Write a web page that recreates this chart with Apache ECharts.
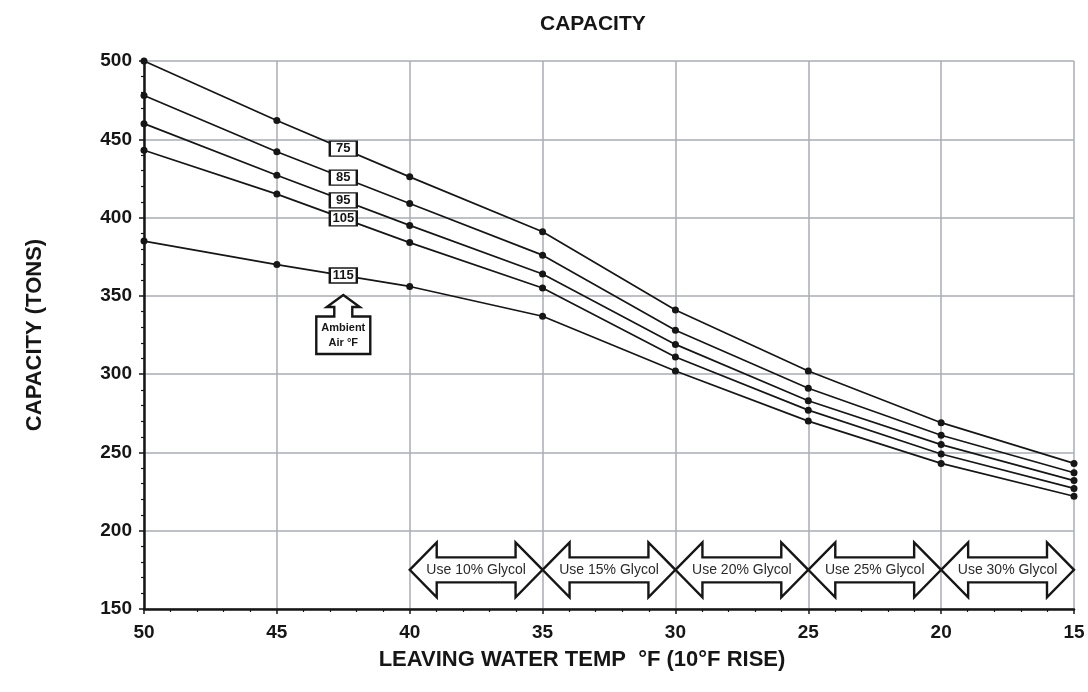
<!DOCTYPE html>
<html>
<head>
<meta charset="utf-8">
<script src="https://cdn.jsdelivr.net/npm/echarts@6/dist/echarts.min.js"></script>
<style>html,body{margin:0;padding:0;background:#fff}#c{width:1088px;height:692px}</style>
</head>
<body>
<div id="c"></div>
<script>
// ---- data ----
const temps = [50, 45, 40, 35, 30, 25, 20, 15];
const cap75  = [500, 462, 426, 391, 341, 302, 269, 243];
const cap85  = [478, 442, 409, 376, 328, 291, 261, 237];
const cap95  = [460, 427, 395, 364, 319, 283, 255, 232];
const cap105 = [443, 415, 384, 355, 311, 277, 249, 227];
const cap115 = [385, 370, 356, 337, 302, 270, 243, 222];
const ambientNames = ['75', '85', '95', '105', '115'];
const glycolRanges = [[40, 35], [35, 30], [30, 25], [25, 20], [20, 15]];
const glycolLabels = ['Use 10% Glycol', 'Use 15% Glycol', 'Use 20% Glycol', 'Use 25% Glycol', 'Use 30% Glycol'];
const glycolLevel = 175;
const labelTemp = 42.5;
const ambientArrowTip = [42.5, 350.5];
const xTicks = [15, 50, 5];
const yTicks = [150, 500, 50];

const allSeries = [cap75, cap85, cap95, cap105, cap115];
const FONT = 'Liberation Sans, Arial, sans-serif';
const INK = '#161616';

const lineSeries = allSeries.map((vals, i) => ({
  type: 'line',
  name: ambientNames[i],
  data: temps.map((t, j) => [t, vals[j]]),
  symbol: 'circle',
  symbolSize: 7,
  lineStyle: { color: INK, width: 1.7 },
  itemStyle: { color: INK },
  z: 3
}));

// value on each line at the label temperature (between the 45 and 40 points)
const labelData = allSeries.map((vals, i) => {
  const a = temps.indexOf(45), b = temps.indexOf(40);
  const f = (temps[a] - labelTemp) / (temps[a] - temps[b]);
  return { value: [labelTemp, vals[a] + (vals[b] - vals[a]) * f], name: ambientNames[i] };
});

const chart = echarts.init(document.getElementById('c'), null, { renderer: 'canvas' });
chart.setOption({
  backgroundColor: '#fff',
  animation: false,
  title: {
    text: 'CAPACITY', left: 535, top: 9,
    textStyle: { fontFamily: FONT, fontWeight: 'bold', fontSize: 21, color: INK }
  },
  grid: { left: 144, right: 14, top: 61, bottom: 83 },
  xAxis: {
    type: 'value', inverse: true,
    min: xTicks[0], max: xTicks[1], interval: xTicks[2],
    name: 'LEAVING WATER TEMP  °F (10°F RISE)',
    nameLocation: 'middle', nameGap: 40,
    nameTextStyle: { fontFamily: FONT, fontWeight: 'bold', fontSize: 22, color: INK, padding: [0, 54, 0, 0] },
    axisLine: { show: true, lineStyle: { color: INK, width: 2.5 } },
    axisTick: { show: true, length: 5, lineStyle: { color: INK, width: 1.5 } },
    minorTick: { show: true, splitNumber: 5, length: 3, lineStyle: { color: INK, width: 1.2 } },
    splitLine: { show: true, lineStyle: { color: '#a8aeb4', width: 1.5 } },
    axisLabel: { margin: 14, fontFamily: FONT, fontWeight: 'bold', fontSize: 19, color: INK }
  },
  yAxis: {
    type: 'value',
    min: yTicks[0], max: yTicks[1], interval: yTicks[2],
    name: 'CAPACITY (TONS)',
    nameLocation: 'middle', nameGap: 98, nameRotate: 90,
    nameTextStyle: { fontFamily: FONT, fontWeight: 'bold', fontSize: 22, color: INK },
    axisLine: { show: true, lineStyle: { color: INK, width: 2.5 } },
    axisTick: { show: true, length: 5, lineStyle: { color: INK, width: 1.5 } },
    minorTick: { show: true, splitNumber: 5, length: 3, lineStyle: { color: INK, width: 1.2 } },
    splitLine: { show: true, lineStyle: { color: '#a8aeb4', width: 1.5 } },
    axisLabel: { margin: 12, fontFamily: FONT, fontWeight: 'bold', fontSize: 19, color: INK }
  },
  series: lineSeries.concat([
    {
      type: 'scatter',
      data: labelData,
      symbol: 'rect',
      symbolSize: [27, 15],
      itemStyle: { color: '#fff', borderColor: INK, borderWidth: 1.8, opacity: 1 },
      label: {
        show: true, position: 'inside', formatter: p => p.name,
        fontFamily: FONT, fontWeight: 'bold', fontSize: 13, color: INK
      },
      z: 5
    },
    {
      type: 'custom',
      data: glycolRanges.map((r, i) => [r[0], r[1], glycolLevel, glycolLabels[i]]),
      renderItem: (params, api) => {
        const p1 = api.coord([api.value(0), api.value(2)]);
        const p2 = api.coord([api.value(1), api.value(2)]);
        const x1 = p1[0], x2 = p2[0], y = p1[1];
        const hl = 27, hh = 27.5, sh = 12.5;
        const pts = [
          [x1, y], [x1 + hl, y - hh], [x1 + hl, y - sh], [x2 - hl, y - sh], [x2 - hl, y - hh],
          [x2, y], [x2 - hl, y + hh], [x2 - hl, y + sh], [x1 + hl, y + sh], [x1 + hl, y + hh]
        ];
        return {
          type: 'group',
          children: [
            { type: 'polygon', shape: { points: pts }, style: { fill: '#fff', stroke: INK, lineWidth: 2.4, lineJoin: 'miter' } },
            { type: 'text', style: { text: glycolLabels[params.dataIndex], x: (x1 + x2) / 2, y: y, align: 'center', verticalAlign: 'middle',
              font: '14px ' + FONT, fill: '#2b2b2b' } }
          ]
        };
      },
      z: 4
    },
    {
      type: 'custom',
      data: [ambientArrowTip],
      renderItem: (params, api) => {
        const p = api.coord([api.value(0), api.value(1)]);
        const x = p[0], y = p[1];
        const pts = [
          [x, y], [x + 16.5, y + 12], [x + 9, y + 12], [x + 9, y + 21.5], [x + 27, y + 21.5],
          [x + 27, y + 59], [x - 27, y + 59], [x - 27, y + 21.5], [x - 9, y + 21.5], [x - 9, y + 12], [x - 16.5, y + 12]
        ];
        return {
          type: 'group',
          children: [
            { type: 'polygon', shape: { points: pts }, style: { fill: '#fff', stroke: INK, lineWidth: 2.4 } },
            { type: 'text', style: { text: 'Ambient\nAir °F', x: x, y: y + 40.5, align: 'center', verticalAlign: 'middle',
              font: 'bold 11px ' + FONT, fill: INK, lineHeight: 15 } }
          ]
        };
      },
      z: 4
    }
  ])
});
</script>
</body>
</html>
